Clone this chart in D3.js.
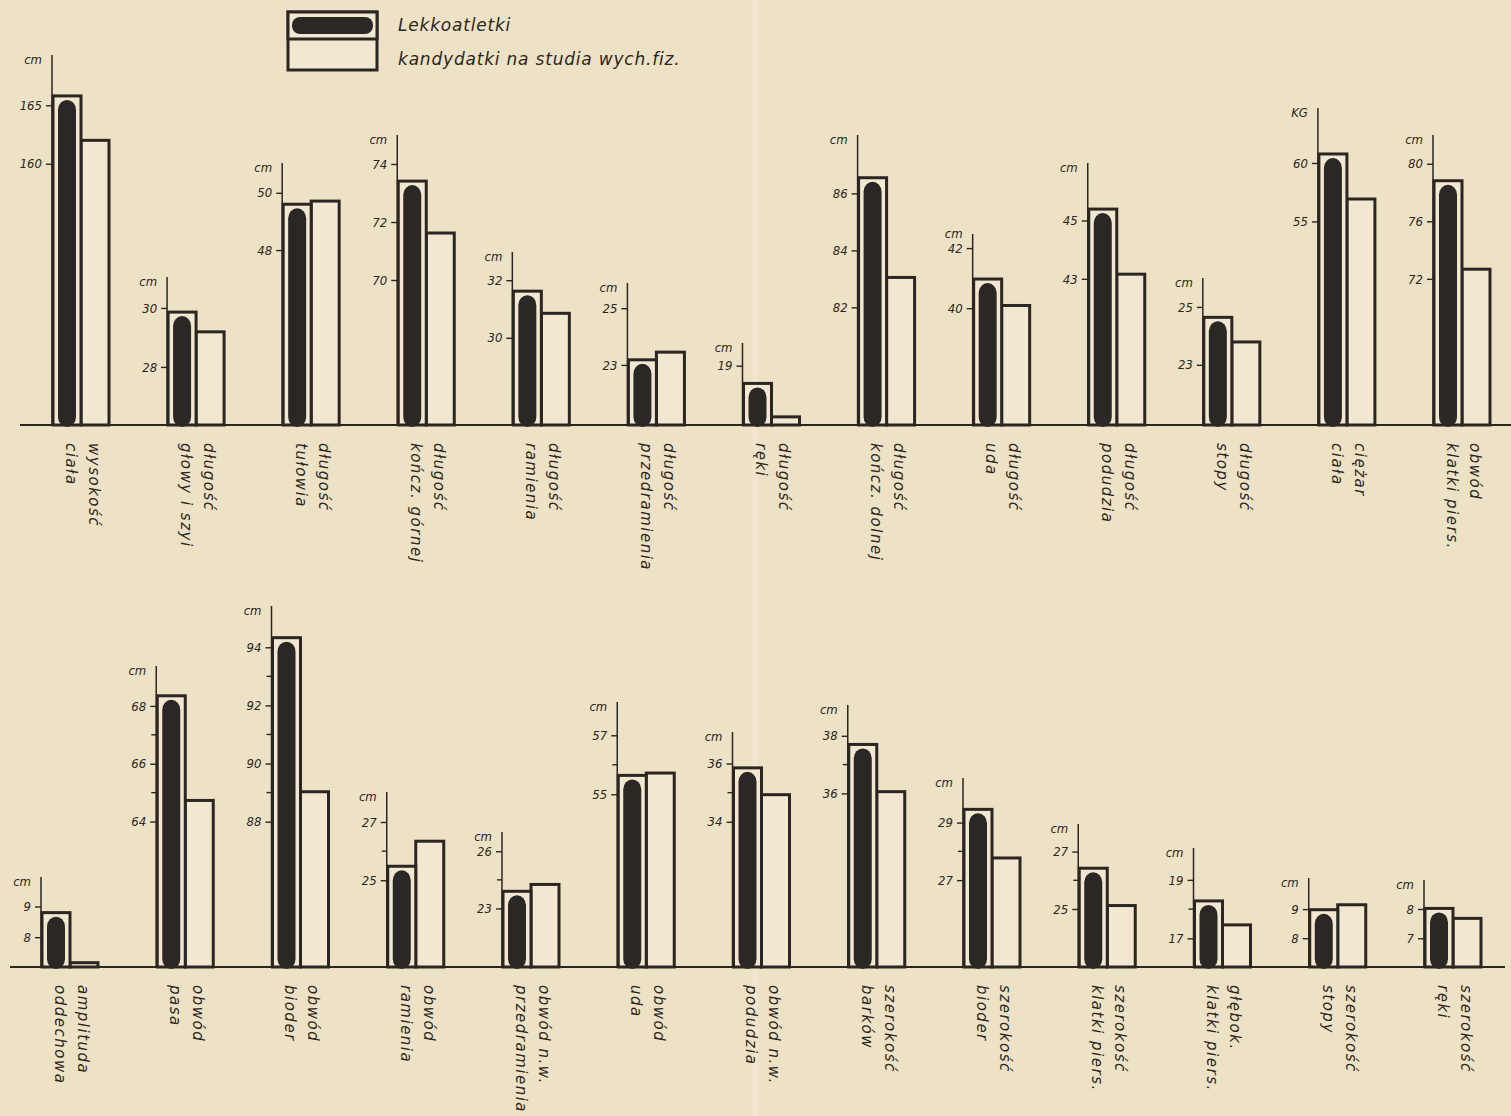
<!DOCTYPE html>
<html lang="pl">
<head>
<meta charset="utf-8">
<script src="https://cdn.jsdelivr.net/npm/d3@7"></script>
<style>
  html, body { margin: 0; padding: 0; background: #eee2c6; }
  svg { display: block; }
  .tick-label, .unit { font-family: "DejaVu Sans Condensed", "DejaVu Sans", sans-serif; font-style: italic; font-stretch: condensed; }
  .cat { font-family: "DejaVu Sans", sans-serif; font-style: italic; }
  .legend-text { font-family: "DejaVu Sans", sans-serif; font-style: italic; }
</style>
</head>
<body>
<script>
// ---- Data: upper row (lengths, weight, chest girth) ----
const row1Labels = [
  ["wysokość", "ciała"], ["długość", "głowy i szyi"], ["długość", "tułowia"],
  ["długość", "kończ. górnej"], ["długość", "ramienia"], ["długość", "przedramienia"],
  ["długość", "ręki"], ["długość", "kończ. dolnej"], ["długość", "uda"],
  ["długość", "podudzia"], ["długość", "stopy"], ["ciężar", "ciała"],
  ["obwód", "klatki piers."]
];
const row1Units = ["cm", "cm", "cm", "cm", "cm", "cm", "cm", "cm", "cm", "cm", "cm", "KG", "cm"];
const row1Athletes   = [165.8, 29.86, 49.6, 73.41, 31.62, 23.18, 18.39, 86.55, 40.97, 45.39, 24.64, 60.77, 78.82];
const row1Candidates = [162.0, 29.19, 49.71, 71.62, 30.85, 23.45, 17.24, 83.05, 40.09, 43.16, 23.79, 56.92, 72.67];
const row1Ticks = [[160, 165], [28, 30], [48, 50], [70, 72, 74], [30, 32], [23, 25], [19],
                   [82, 84, 86], [40, 42], [43, 45], [23, 25], [55, 60], [72, 76, 80]];
const row1Minor = [[], [], [], [], [], [], [], [], [], [], [], [], []];
const row1Domains = [[137.65, 169.3], [26.03, 31.05], [41.89, 51.04], [65, 75], [26.97, 32.98],
                     [20.88, 25.89], [16.96, 19.78], [77.87, 88.05], [36.11, 42.47], [37.99, 46.97],
                     [20.92, 26.0], [37.6, 64.7], [61.84, 82.0]];

// ---- Data: lower row (girths, breadths, depths) ----
const row2Labels = [
  ["amplituda", "oddechowa"], ["obwód", "pasa"], ["obwód", "bioder"], ["obwód", "ramienia"],
  ["obwód n.w.", "przedramienia"], ["obwód", "uda"], ["obwód n.w.", "podudzia"],
  ["szerokość", "barków"], ["szerokość", "bioder"], ["szerokość", "klatki piers."],
  ["głębok.", "klatki piers."], ["szerokość", "stopy"], ["szerokość", "ręki"]
];
const row2Units = ["cm", "cm", "cm", "cm", "cm", "cm", "cm", "cm", "cm", "cm", "cm", "cm", "cm"];
const row2Athletes   = [8.80, 68.35, 94.33, 25.48, 23.9, 55.64, 35.85, 37.7, 29.46, 26.42, 18.28, 8.98, 8.02];
const row2Candidates = [7.17, 64.73, 89.03, 26.34, 24.26, 55.72, 34.93, 36.06, 27.77, 25.12, 17.46, 9.15, 7.68];
const row2Ticks = [[8, 9], [64, 66, 68], [88, 90, 92, 94], [25, 27], [23, 26], [55, 57], [34, 36],
                   [36, 38], [27, 29], [25, 27], [17, 19], [8, 9], [7, 8]];
const row2Minor = [[], [65, 67], [89, 91, 93], [26], [24.5], [56], [35], [37], [28], [26], [18], [], []];
const row2Domains = [[7.03, 9.96], [58.97, 69.38], [83.0, 95.42], [22.02, 28.03], [19.93, 27.01],
                     [49.14, 58.13], [29.02, 37.08], [29.97, 39.07], [23.98, 30.55], [22.98, 27.96],
                     [16.02, 20.09], [7.01, 10.07], [6.02, 8.99]];

const seriesNames = ["Lekkoatletki", "kandydatki na studia wych.fiz."];

// ---- Layout ----
const W = 1511, H = 1116;
const INK = "#2b2621";
const PAPER = "#eee2c6";
const BAR_FILL = "#f2e8d1";

const rows = [
  { labels: row1Labels, units: row1Units, a: row1Athletes, c: row1Candidates, ticks: row1Ticks,
    minor: row1Minor, domains: row1Domains, baseline: 425, axisX: [52, 1433], lineX: [20, 1511],
    axisTop: [55, 277, 163, 135, 252, 283, 343, 135, 234, 163, 278, 108, 135] },
  { labels: row2Labels, units: row2Units, a: row2Athletes, c: row2Candidates, ticks: row2Ticks,
    minor: row2Minor, domains: row2Domains, baseline: 967, axisX: [41, 1424], lineX: [10, 1505],
    axisTop: [877, 666, 606, 792, 832, 702, 732, 705, 778, 824, 848, 878, 880] }
];

const svg = d3.select("body").append("svg").attr("width", W).attr("height", H);
svg.append("rect").attr("width", W).attr("height", H).attr("fill", PAPER);

// slight paper fold
svg.append("rect").attr("x", 752).attr("y", 0).attr("width", 6).attr("height", H)
  .attr("fill", "#f3e9d2").attr("opacity", 0.6);

// two bars per panel: athletes (left) and candidates (right)
const barBand = d3.scaleBand().domain(["a", "c"]).range([1, 57]).padding(0);

rows.forEach(row => {
  const n = row.labels.length;
  const px = d3.scaleLinear().domain([0, n - 1]).range(row.axisX);
  const g = svg.append("g");

  // baseline
  g.append("line").attr("x1", row.lineX[0]).attr("x2", row.lineX[1])
    .attr("y1", row.baseline).attr("y2", row.baseline)
    .attr("stroke", INK).attr("stroke-width", 2);

  d3.range(n).forEach(i => {
    const ax = px(i);
    const y = d3.scaleLinear().domain(row.domains[i]).range([row.baseline, row.axisTop[i]]);
    const p = g.append("g").attr("transform", `translate(${ax},0)`);

    // bars
    const bw = barBand.bandwidth();
    const ya = y(row.a[i]), yc = y(row.c[i]);
    // candidates: plain white bar
    p.append("rect").attr("x", barBand("c")).attr("y", yc)
      .attr("width", bw).attr("height", row.baseline - yc)
      .attr("fill", BAR_FILL).attr("stroke", INK).attr("stroke-width", 3);
    // athletes: framed bar with a dark rounded core
    p.append("rect").attr("x", barBand("a")).attr("y", ya)
      .attr("width", bw).attr("height", row.baseline - ya)
      .attr("fill", BAR_FILL).attr("stroke", INK).attr("stroke-width", 3);
    p.append("rect").attr("x", barBand("a") + 5).attr("y", ya + 4)
      .attr("width", bw - 10).attr("height", row.baseline - ya - 2)
      .attr("rx", (bw - 10) / 2).attr("ry", 10)
      .attr("fill", "#2a2725");

    // axis
    const axis = d3.axisLeft(y).tickValues(row.ticks[i]).tickSize(6).tickPadding(4)
      .tickFormat(d3.format("d"));
    const ag = p.append("g").call(axis);
    ag.select(".domain").remove();
    ag.selectAll(".tick line").attr("stroke", INK).attr("stroke-width", 1.4);
    ag.selectAll(".tick text").attr("class", "tick-label").attr("fill", INK)
      .attr("font-size", 13);
    p.append("line").attr("x1", 0).attr("x2", 0)
      .attr("y1", row.axisTop[i]).attr("y2", row.baseline)
      .attr("stroke", INK).attr("stroke-width", 1.5);
    // minor ticks
    p.selectAll(".minor").data(row.minor[i]).join("line").attr("class", "minor")
      .attr("x1", -5).attr("x2", 0).attr("y1", d => y(d)).attr("y2", d => y(d))
      .attr("stroke", INK).attr("stroke-width", 1.4);

    // unit, kept just above the highest tick label
    const topTickY = y(d3.max(row.ticks[i]));
    p.append("text").attr("class", "unit").attr("x", -10)
      .attr("y", Math.min(row.axisTop[i] + 9, topTickY - 10))
      .attr("text-anchor", "end").attr("font-size", 13).attr("fill", INK)
      .text(row.units[i]);

    // category label, rotated to read downward
    const t = p.append("text").attr("class", "cat")
      .attr("transform", `translate(48,${row.baseline + 18}) rotate(90)`)
      .attr("font-size", 15).attr("letter-spacing", 1.5).attr("fill", INK);
    row.labels[i].forEach((line, k) => {
      t.append("tspan").attr("x", 0).attr("y", k * 23).attr("dominant-baseline", "hanging")
        .text(line);
    });
  });
});

// legend
const lg = svg.append("g").attr("transform", "translate(288,12)");
lg.append("rect").attr("x", 0).attr("y", 0).attr("width", 89).attr("height", 58)
  .attr("fill", BAR_FILL).attr("stroke", INK).attr("stroke-width", 3);
lg.append("rect").attr("x", 0).attr("y", 0).attr("width", 89).attr("height", 27)
  .attr("fill", BAR_FILL).attr("stroke", INK).attr("stroke-width", 3);
lg.append("rect").attr("x", 4).attr("y", 5).attr("width", 81).attr("height", 17)
  .attr("rx", 8).attr("fill", "#2a2725");
lg.selectAll(".legend-text").data(seriesNames).join("text").attr("class", "legend-text")
  .attr("x", 110).attr("y", (d, i) => i === 0 ? 19 : 53)
  .attr("font-size", 17).attr("letter-spacing", 0.8).attr("fill", INK)
  .text(d => d);
</script>
</body>
</html>
